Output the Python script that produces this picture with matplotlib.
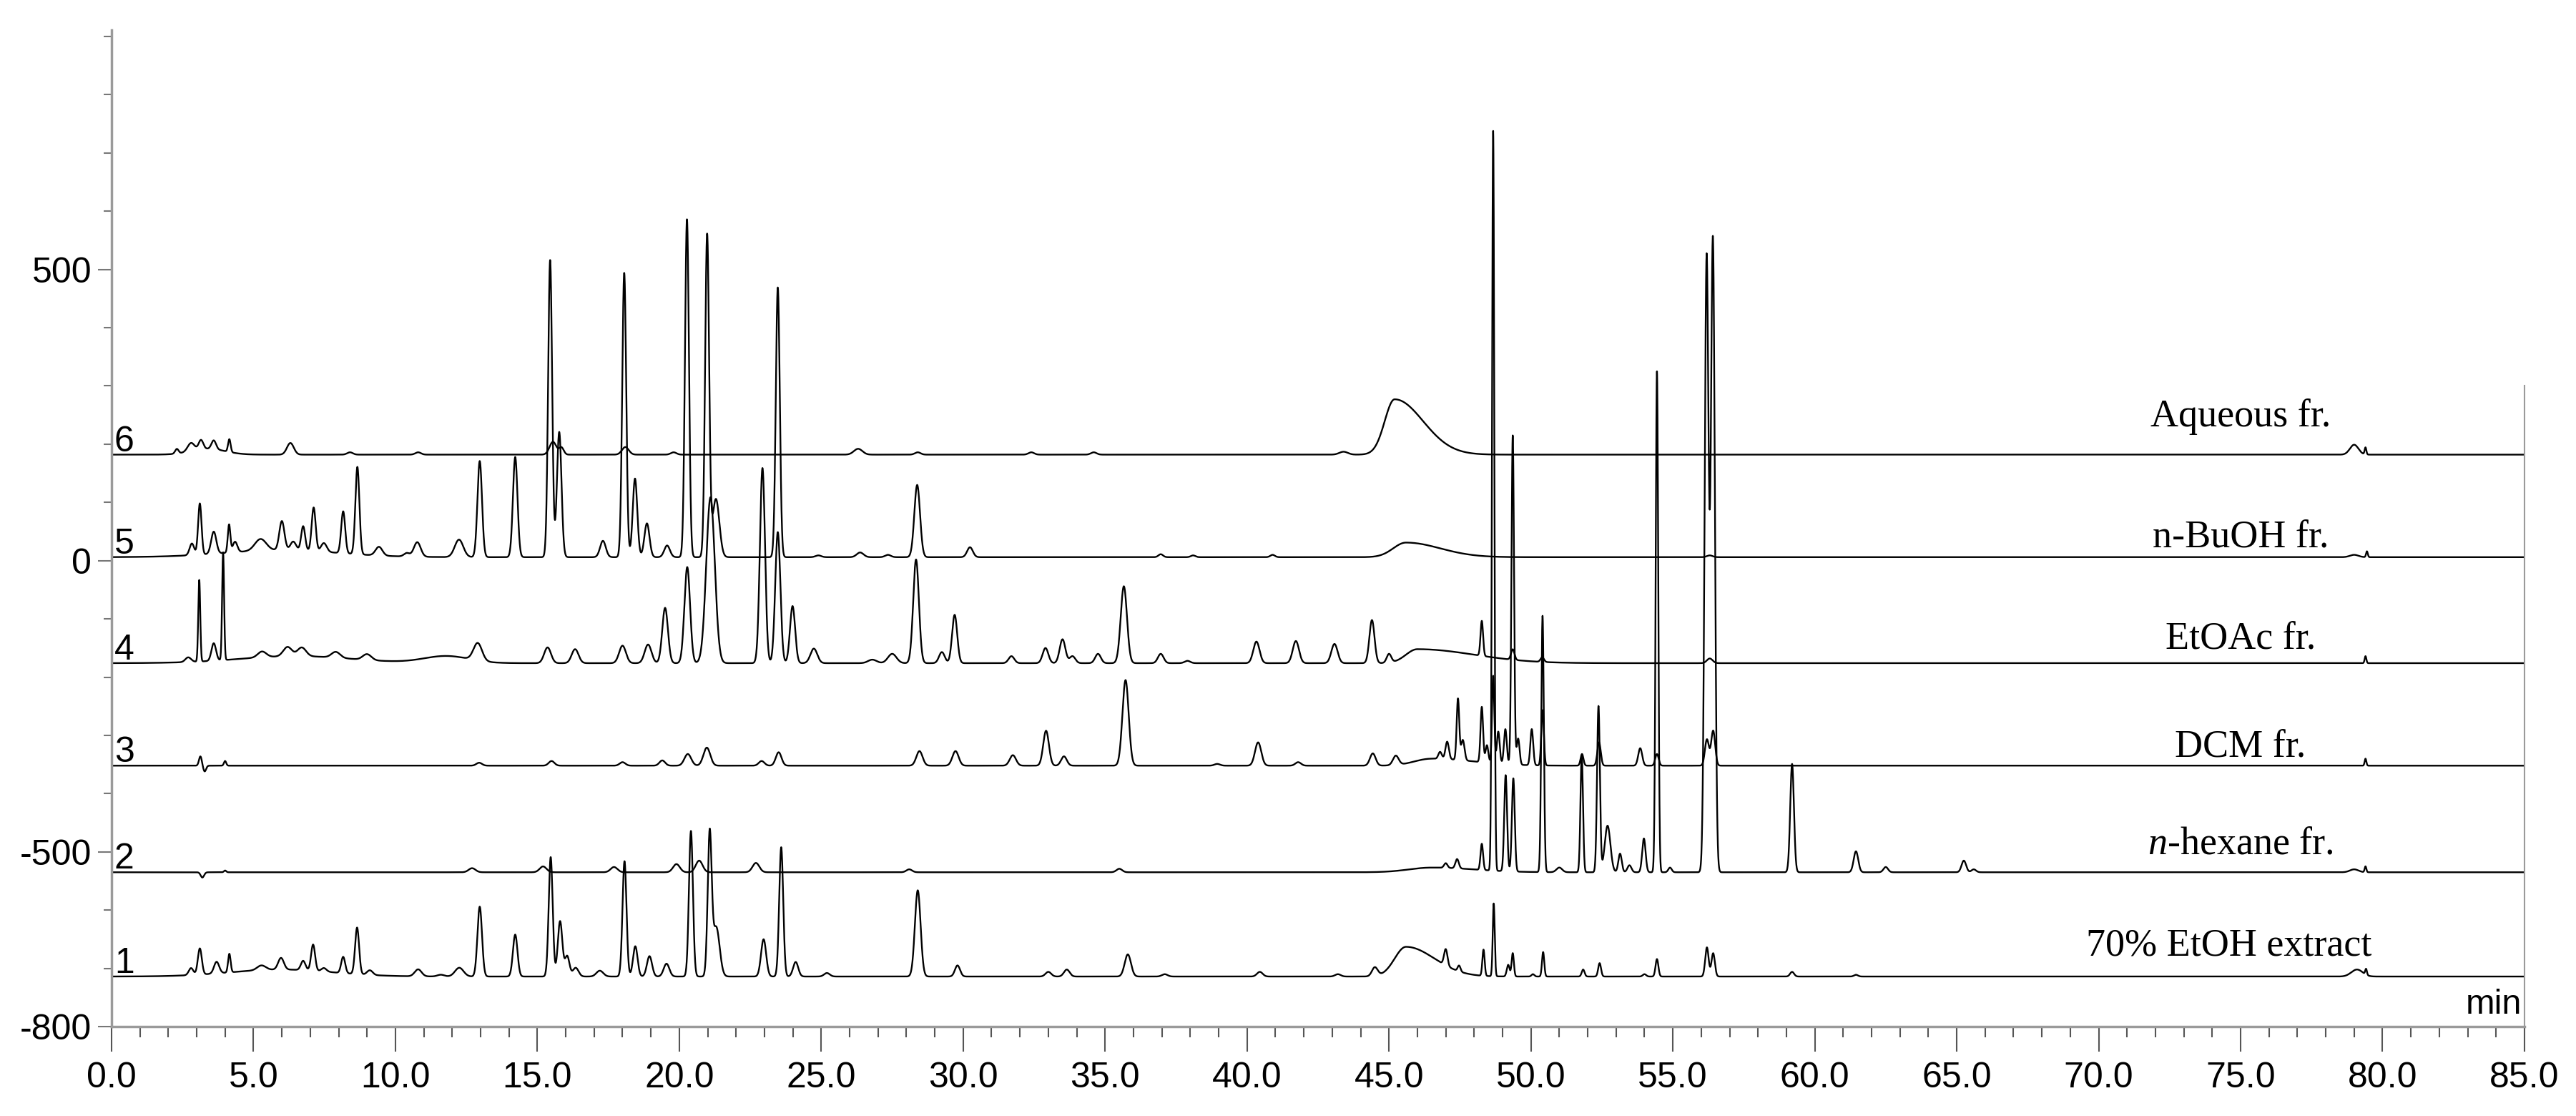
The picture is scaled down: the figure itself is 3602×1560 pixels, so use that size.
import numpy as np
import matplotlib.pyplot as plt
from matplotlib.ticker import MultipleLocator, FixedLocator

plt.rcParams['font.family'] = ['Liberation Sans', 'DejaVu Sans']
plt.rcParams['axes.unicode_minus'] = False
plt.rcParams['mathtext.fontset'] = 'custom'
plt.rcParams['mathtext.rm'] = 'Liberation Serif'
plt.rcParams['mathtext.it'] = 'Liberation Serif:italic'

# peak tables: (rt min, height, sigma) or (rt, height, sigma_left, sigma_right)
peaks_etoh = [
    (6.0, 12, 1.8), (2.8, 12, 0.08), (3.11, 45, 0.07), (3.7, 20, 0.09), (4.15, 32, 0.045),
    (5.28, 8, 0.15), (5.97, 20, 0.1), (6.75, 16, 0.08), (7.1, 45, 0.07), (7.48, 6, 0.09),
    (8.16, 28, 0.07), (8.65, 80, 0.07), (9.1, 8, 0.1), (10.8, 12, 0.12), (11.6, 3, 0.12),
    (12.25, 15, 0.15), (12.97, 120, 0.08), (14.22, 72, 0.08), (15.47, 205, 0.07), (15.8, 95, 0.08),
    (16.05, 35, 0.08), (16.35, 15, 0.1), (17.2, 10, 0.12), (18.07, 198, 0.07), (18.45, 52, 0.08),
    (18.95, 35, 0.09), (19.55, 22, 0.1), (20.41, 250, 0.07), (21.07, 240, 0.07), (21.3, 85, 0.12),
    (22.97, 64, 0.09), (23.59, 222, 0.07), (24.1, 25, 0.09), (25.2, 6, 0.1), (28.4, 148, 0.1),
    (29.8, 19, 0.09), (33.0, 8, 0.1), (33.65, 12, 0.1), (35.8, 38, 0.11), (37.1, 4, 0.1),
    (40.45, 8, 0.1), (43.2, 4, 0.1), (44.5, 15, 0.1), (45.6, 51, 0.4, 1.0), (47.0, 28, 0.06),
    (47.47, 10, 0.05), (48.33, 45, 0.04), (48.69, 125, 0.035), (49.2, 20, 0.05), (49.36, 40, 0.04),
    (50.07, 4, 0.05), (50.43, 42, 0.04), (51.84, 12, 0.05), (52.42, 23, 0.05), (54.0, 4, 0.06),
    (54.44, 30, 0.05), (56.2, 50, 0.06), (56.42, 40, 0.06), (59.2, 8, 0.07), (61.45, 3, 0.07),
    (79.1, 12, 0.2), (79.42, 10, 0.03),
]
peaks_hexane = [
    (3.2, -9, 0.06), (4.0, 3, 0.04), (12.7, 7, 0.12), (15.2, 10, 0.12), (17.7, 9, 0.12),
    (19.9, 14, 0.12), (20.7, 20, 0.12), (22.7, 16, 0.12), (28.1, 5, 0.1), (35.5, 6, 0.1),
    (46.5, 8, 0.8, 1.5), (47.0, 8, 0.06), (47.4, 16, 0.06), (48.27, 45, 0.045), (48.67, 1270, 0.04),
    (49.11, 165, 0.05), (49.38, 160, 0.05), (50.41, 440, 0.045), (51.0, 8, 0.1), (51.79, 200, 0.045),
    (52.38, 285, 0.05), (52.7, 80, 0.1), (53.14, 32, 0.06), (53.47, 12, 0.07), (53.98, 58, 0.06),
    (54.44, 860, 0.045), (54.9, 8, 0.06), (56.19, 1055, 0.07), (56.41, 1085, 0.07), (59.2, 186, 0.065),
    (61.45, 36, 0.08), (62.5, 9, 0.08), (65.25, 20, 0.08), (65.6, 5, 0.08), (79.0, 5, 0.15),
    (79.4, 10, 0.03),
]
peaks_dcm = [
    (3.13, 16, 0.05), (3.28, -10, 0.05), (4.0, 8, 0.04), (12.95, 5, 0.1), (15.5, 8, 0.1),
    (18.0, 6, 0.1), (19.4, 9, 0.1), (20.3, 20, 0.12), (20.97, 31, 0.12), (22.9, 8, 0.1),
    (23.5, 23, 0.1), (28.46, 25, 0.11), (29.73, 25, 0.11), (31.75, 18, 0.11), (32.92, 60, 0.1),
    (33.55, 16, 0.1), (35.72, 147, 0.11), (38.95, 3, 0.1), (40.39, 40, 0.11), (41.8, 6, 0.1),
    (44.43, 21, 0.1), (45.24, 16, 0.1), (46.5, 12, 0.6, 1.5), (46.8, 12, 0.06), (47.05, 30, 0.06),
    (47.43, 105, 0.045), (47.6, 35, 0.06), (48.27, 95, 0.045), (48.45, 30, 0.05), (48.67, 150, 0.04),
    (48.85, 55, 0.05), (49.1, 60, 0.05), (49.36, 565, 0.045), (49.55, 45, 0.05), (50.03, 62, 0.05),
    (50.41, 95, 0.045), (51.8, 20, 0.05), (52.4, 40, 0.06), (53.85, 30, 0.07), (54.44, 20, 0.06),
    (56.2, 45, 0.07), (56.42, 60, 0.07), (79.4, 12, 0.03),
]
peaks_etoac = [
    (2.7, 8, 0.1), (3.09, 140, 0.035), (3.6, 30, 0.08), (3.93, 185, 0.035), (6.5, 12, 2.0),
    (5.3, 10, 0.15), (6.2, 16, 0.15), (6.7, 15, 0.15), (7.9, 10, 0.15), (9.0, 10, 0.15),
    (11.8, 12, 0.8), (12.9, 30, 0.15), (15.36, 27, 0.12), (16.33, 24, 0.12), (18.0, 30, 0.12),
    (18.9, 32, 0.12), (19.5, 95, 0.1), (20.28, 165, 0.1), (21.1, 285, 0.15), (22.93, 335, 0.09),
    (23.47, 225, 0.09), (23.99, 98, 0.09), (24.74, 25, 0.12), (26.8, 6, 0.15), (27.5, 16, 0.15),
    (28.34, 178, 0.1), (29.25, 19, 0.1), (29.7, 83, 0.09), (31.7, 12, 0.1), (32.9, 26, 0.1),
    (33.5, 41, 0.1), (33.85, 12, 0.1), (34.75, 16, 0.1), (35.66, 132, 0.11), (36.96, 16, 0.1),
    (37.9, 4, 0.1), (40.33, 37, 0.11), (41.72, 38, 0.11), (43.08, 33, 0.11), (44.4, 74, 0.09),
    (45.0, 15, 0.08), (46.0, 24, 0.4, 2.0), (48.27, 60, 0.045), (49.36, 18, 0.06), (50.4, 8, 0.06),
    (56.3, 8, 0.1), (79.4, 12, 0.03),
]
peaks_buoh = [
    (6.0, 12, 2.0), (2.83, 20, 0.08), (3.11, 88, 0.06), (3.6, 38, 0.09), (4.14, 48, 0.045),
    (4.35, 18, 0.08), (5.25, 20, 0.2), (6.0, 50, 0.09), (6.4, 15, 0.1), (6.75, 42, 0.07),
    (7.12, 75, 0.07), (7.48, 15, 0.1), (8.16, 72, 0.07), (8.66, 150, 0.07), (9.42, 15, 0.12),
    (10.4, 6, 0.1), (10.77, 25, 0.12), (12.24, 30, 0.15), (12.97, 165, 0.08), (14.22, 172, 0.08),
    (15.45, 510, 0.07), (15.77, 215, 0.08), (17.31, 28, 0.1), (18.06, 488, 0.07), (18.44, 135, 0.08),
    (18.86, 58, 0.09), (19.57, 20, 0.1), (20.27, 580, 0.07), (20.98, 552, 0.07), (21.29, 100, 0.12),
    (23.47, 463, 0.07), (24.9, 3, 0.1), (26.37, 8, 0.12), (27.35, 4, 0.1), (28.38, 124, 0.1),
    (30.24, 17, 0.1), (36.96, 5, 0.08), (38.1, 3, 0.08), (40.9, 4, 0.08), (45.6, 25, 0.45, 1.2),
    (56.3, 3, 0.1), (79.0, 4, 0.15), (79.45, 10, 0.03),
]
peaks_aqueous = [
    (3.4, 10, 0.6), (2.3, 8, 0.06), (2.8, 14, 0.12), (3.15, 16, 0.08), (3.6, 15, 0.08),
    (4.15, 22, 0.045), (6.3, 20, 0.12), (8.4, 4, 0.1), (10.8, 4, 0.1), (15.55, 22, 0.12),
    (15.85, 12, 0.08), (18.1, 13, 0.12), (19.8, 4, 0.1), (26.3, 10, 0.15), (28.4, 4, 0.1),
    (32.4, 4, 0.1), (34.6, 4, 0.1), (43.4, 5, 0.15), (45.2, 95, 0.35, 1.0), (79.0, 17, 0.15),
    (79.4, 12, 0.03),
]

traces = [peaks_etoh, peaks_hexane, peaks_dcm, peaks_etoac, peaks_buoh, peaks_aqueous]
baselines = [-714, -535, -352, -176, 6, 182]
names = ['70% EtOH extract', r'$\it{n}$-hexane fr.', 'DCM fr.', 'EtOAc fr.', 'n-BuOH fr.', 'Aqueous fr.']
name_x = [74.6, 75.0, 75.0, 75.0, 75.0, 75.0]
name_y = [-678, -503, -336, -151, 24, 231]

t = np.arange(0, 85.0001, 0.005)


def chrom(peaks, base):
    y = np.full_like(t, float(base))
    for p in peaks:
        rt, h, sl = p[0], p[1], p[2]
        sr = p[3] if len(p) > 3 else sl
        s = np.where(t < rt, sl, sr)
        y += h * np.exp(-0.5 * ((t - rt) / s) ** 2)
    return y


fig = plt.figure(figsize=(36.02, 15.60), dpi=100)
ax = fig.add_axes([0.0433, 0.0801, 0.9367, 0.893])

for i, (pk, b) in enumerate(zip(traces, baselines)):
    ax.plot(t, chrom(pk, b), color='black', lw=1.7)
    ax.text(0.1, b + 6, str(i + 1), fontsize=36, ha='left', va='baseline')
    ax.text(name_x[i], name_y[i], names[i], fontsize=39, family='Liberation Serif',
            ha='center', va='baseline')

ax.text(84.9, -778, 'min', fontsize=35, ha='right', va='baseline')

ax.set_xlim(0, 85)
ax.set_ylim(-800, 911)

ax.set_xticks(np.arange(0, 86, 5))
ax.set_xticklabels([f'{v:.1f}' for v in np.arange(0, 86, 5)])
ax.xaxis.set_minor_locator(MultipleLocator(1))
ax.set_yticks([-800, -500, 0, 500])
ax.set_yticklabels(['-800', '-500', '0', '500'])
ax.yaxis.set_minor_locator(FixedLocator([v for v in range(-700, 901, 100) if v not in (-500, 0, 500)]))

ax.tick_params(axis='x', which='major', length=25, width=1.5, color='#555555', labelsize=36, pad=10)
ax.tick_params(axis='x', which='minor', length=11, width=1.5, color='#555555')
ax.tick_params(axis='y', which='major', length=14, width=1.5, color='#777777', labelsize=36, pad=6)
ax.tick_params(axis='y', which='minor', length=8, width=1.5, color='#777777')

ax.spines['top'].set_visible(False)
for s in ['left', 'bottom']:
    ax.spines[s].set_color('#9a9a9a')
    ax.spines[s].set_linewidth(2.5)
ax.spines['right'].set_color('#9a9a9a')
ax.spines['right'].set_linewidth(1.5)
ax.spines['right'].set_bounds(-800, 300)

fig.savefig('out.png', dpi=100)
print("Saved figure to out.png")
